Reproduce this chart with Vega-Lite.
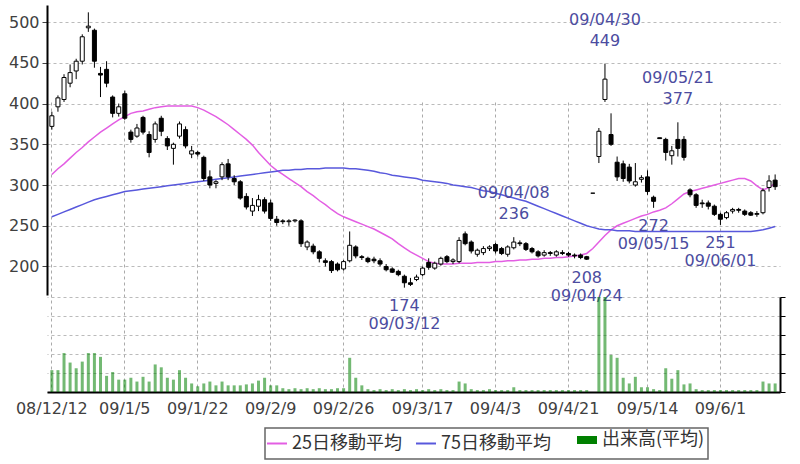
{
"$schema": "https://vega.github.io/schema/vega-lite/v6.json",
"width": 733, "height": 387,
"autosize": "none",
"padding": {"left": 47, "top": 5, "right": 20, "bottom": 72},
"background": "white",
"config": {"view": {"stroke": null}, "axis": {"labelFont": "DejaVu Sans", "labelFontSize": 16, "labelColor": "#404040"}},
"data": {"values": [
{"d":"08/12/12","o":372,"h":390,"l":368,"c":385,"v":23,"m25":313,"m75":261},
{"d":"08/12/15","o":396,"h":410,"l":390,"c":407,"v":23,"m25":320,"m75":264},
{"d":"08/12/16","o":405,"h":436,"l":402,"c":432,"v":41,"m25":326,"m75":267},
{"d":"08/12/17","o":425,"h":448,"l":420,"c":438,"v":31,"m25":333,"m75":270},
{"d":"08/12/18","o":440,"h":455,"l":430,"c":452,"v":25,"m25":340,"m75":273},
{"d":"08/12/19","o":452,"h":485,"l":448,"c":482,"v":32,"m25":346,"m75":276},
{"d":"08/12/22","o":493,"h":512,"l":488,"c":495,"v":41,"m25":353,"m75":279},
{"d":"08/12/24","o":490,"h":492,"l":444,"c":452,"v":41,"m25":359,"m75":282},
{"d":"08/12/25","o":437,"h":445,"l":408,"c":435,"v":37,"m25":365,"m75":284},
{"d":"08/12/26","o":442,"h":452,"l":420,"c":425,"v":17,"m25":370,"m75":286},
{"d":"08/12/29","o":408,"h":410,"l":383,"c":388,"v":21,"m25":375,"m75":288},
{"d":"08/12/30","o":388,"h":400,"l":384,"c":396,"v":13,"m25":380,"m75":290},
{"d":"09/1/5","o":412,"h":416,"l":380,"c":382,"v":13,"m25":384,"m75":292},
{"d":"09/1/6","o":365,"h":368,"l":352,"c":356,"v":15,"m25":388,"m75":293},
{"d":"09/1/7","o":360,"h":375,"l":358,"c":370,"v":11,"m25":390,"m75":294},
{"d":"09/1/8","o":383,"h":385,"l":362,"c":365,"v":16,"m25":391,"m75":295},
{"d":"09/1/9","o":362,"h":366,"l":334,"c":340,"v":11,"m25":393,"m75":296},
{"d":"09/1/13","o":356,"h":378,"l":352,"c":375,"v":29,"m25":395,"m75":297},
{"d":"09/1/14","o":382,"h":385,"l":360,"c":366,"v":26,"m25":396,"m75":298},
{"d":"09/1/15","o":357,"h":360,"l":343,"c":348,"v":15,"m25":397,"m75":299},
{"d":"09/1/16","o":345,"h":352,"l":325,"c":350,"v":13,"m25":397,"m75":300},
{"d":"09/1/19","o":360,"h":378,"l":357,"c":375,"v":23,"m25":397,"m75":301},
{"d":"09/1/20","o":368,"h":372,"l":345,"c":348,"v":15,"m25":397,"m75":302},
{"d":"09/1/21","o":338,"h":348,"l":333,"c":342,"v":9,"m25":397,"m75":303},
{"d":"09/1/22","o":340,"h":342,"l":335,"c":338,"v":6,"m25":395,"m75":304},
{"d":"09/1/23","o":334,"h":336,"l":305,"c":308,"v":9,"m25":392,"m75":305},
{"d":"09/1/26","o":310,"h":318,"l":296,"c":300,"v":11,"m25":388,"m75":306},
{"d":"09/1/27","o":302,"h":306,"l":296,"c":304,"v":7,"m25":384,"m75":307},
{"d":"09/1/28","o":310,"h":328,"l":306,"c":325,"v":11,"m25":379,"m75":308},
{"d":"09/1/29","o":326,"h":332,"l":306,"c":310,"v":7,"m25":374,"m75":309},
{"d":"09/1/30","o":308,"h":312,"l":300,"c":304,"v":7,"m25":368,"m75":310},
{"d":"09/2/2","o":304,"h":306,"l":282,"c":284,"v":7,"m25":362,"m75":311},
{"d":"09/2/3","o":286,"h":290,"l":270,"c":273,"v":8,"m25":356,"m75":312},
{"d":"09/2/4","o":268,"h":284,"l":262,"c":275,"v":9,"m25":349,"m75":313},
{"d":"09/2/5","o":274,"h":288,"l":268,"c":282,"v":12,"m25":340,"m75":314},
{"d":"09/2/6","o":282,"h":285,"l":265,"c":268,"v":15,"m25":332,"m75":315},
{"d":"09/2/9","o":278,"h":282,"l":256,"c":259,"v":7,"m25":324,"m75":316},
{"d":"09/2/10","o":258,"h":262,"l":250,"c":254,"v":7,"m25":318,"m75":317},
{"d":"09/2/12","o":256,"h":258,"l":252,"c":255,"v":4,"m25":313,"m75":318},
{"d":"09/2/13","o":255,"h":258,"l":250,"c":256,"v":3,"m25":308,"m75":318},
{"d":"09/2/16","o":256,"h":258,"l":254,"c":257,"v":4,"m25":303,"m75":319},
{"d":"09/2/17","o":256,"h":258,"l":224,"c":228,"v":3,"m25":298,"m75":319},
{"d":"09/2/18","o":224,"h":232,"l":220,"c":230,"v":4,"m25":292,"m75":320},
{"d":"09/2/19","o":225,"h":228,"l":215,"c":218,"v":3,"m25":287,"m75":320},
{"d":"09/2/20","o":218,"h":220,"l":205,"c":210,"v":4,"m25":281,"m75":320},
{"d":"09/2/23","o":207,"h":210,"l":200,"c":205,"v":3,"m25":276,"m75":321},
{"d":"09/2/24","o":206,"h":208,"l":192,"c":195,"v":3,"m25":270,"m75":321},
{"d":"09/2/25","o":203,"h":205,"l":194,"c":196,"v":4,"m25":265,"m75":321},
{"d":"09/2/26","o":197,"h":208,"l":195,"c":206,"v":4,"m25":261,"m75":321},
{"d":"09/2/27","o":207,"h":243,"l":205,"c":226,"v":36,"m25":258,"m75":320},
{"d":"09/3/2","o":224,"h":226,"l":210,"c":213,"v":15,"m25":255,"m75":320},
{"d":"09/3/3","o":212,"h":214,"l":208,"c":211,"v":7,"m25":252,"m75":319},
{"d":"09/3/4","o":210,"h":212,"l":204,"c":206,"v":3,"m25":249,"m75":318},
{"d":"09/3/5","o":209,"h":212,"l":204,"c":207,"v":2,"m25":246,"m75":317},
{"d":"09/3/6","o":207,"h":210,"l":200,"c":203,"v":3,"m25":242,"m75":315},
{"d":"09/3/9","o":200,"h":203,"l":194,"c":196,"v":2,"m25":238,"m75":314},
{"d":"09/3/10","o":197,"h":199,"l":192,"c":193,"v":3,"m25":234,"m75":312},
{"d":"09/3/11","o":194,"h":196,"l":188,"c":190,"v":2,"m25":228,"m75":311},
{"d":"09/3/12","o":188,"h":190,"l":174,"c":180,"v":3,"m25":223,"m75":310,"note":"low","lab":"09/03/12"},
{"d":"09/3/13","o":180,"h":186,"l":176,"c":178,"v":2,"m25":218,"m75":309},
{"d":"09/3/16","o":184,"h":190,"l":182,"c":187,"v":3,"m25":214,"m75":308},
{"d":"09/3/17","o":190,"h":200,"l":188,"c":198,"v":2,"m25":210,"m75":306},
{"d":"09/3/18","o":205,"h":210,"l":196,"c":199,"v":3,"m25":206,"m75":305},
{"d":"09/3/19","o":198,"h":206,"l":196,"c":204,"v":2,"m25":204,"m75":304},
{"d":"09/3/23","o":203,"h":212,"l":201,"c":210,"v":3,"m25":203,"m75":303},
{"d":"09/3/24","o":212,"h":214,"l":204,"c":206,"v":2,"m25":203,"m75":302},
{"d":"09/3/25","o":206,"h":210,"l":203,"c":208,"v":2,"m25":203,"m75":300},
{"d":"09/3/26","o":206,"h":236,"l":204,"c":232,"v":11,"m25":204,"m75":299},
{"d":"09/3/27","o":240,"h":243,"l":226,"c":228,"v":9,"m25":204,"m75":298},
{"d":"09/3/30","o":230,"h":232,"l":216,"c":219,"v":3,"m25":204,"m75":297},
{"d":"09/3/31","o":215,"h":222,"l":212,"c":220,"v":2,"m25":205,"m75":295},
{"d":"09/4/1","o":217,"h":225,"l":214,"c":222,"v":2,"m25":205,"m75":293},
{"d":"09/4/2","o":222,"h":226,"l":219,"c":224,"v":3,"m25":205,"m75":292},
{"d":"09/4/3","o":227,"h":229,"l":216,"c":219,"v":2,"m25":206,"m75":290},
{"d":"09/4/6","o":222,"h":224,"l":214,"c":216,"v":2,"m25":206,"m75":288},
{"d":"09/4/7","o":215,"h":226,"l":212,"c":224,"v":2,"m25":207,"m75":286},
{"d":"09/4/8","o":223,"h":236,"l":221,"c":230,"v":5,"m25":207,"m75":284,"note":"high","lab":"09/04/08"},
{"d":"09/4/9","o":229,"h":232,"l":225,"c":228,"v":2,"m25":208,"m75":282},
{"d":"09/4/10","o":228,"h":230,"l":219,"c":221,"v":2,"m25":208,"m75":280},
{"d":"09/4/13","o":222,"h":224,"l":216,"c":218,"v":2,"m25":209,"m75":277},
{"d":"09/4/14","o":218,"h":220,"l":211,"c":213,"v":2,"m25":209,"m75":274},
{"d":"09/4/15","o":214,"h":220,"l":212,"c":217,"v":2,"m25":210,"m75":271},
{"d":"09/4/16","o":217,"h":219,"l":213,"c":216,"v":2,"m25":210,"m75":268},
{"d":"09/4/17","o":214,"h":220,"l":212,"c":218,"v":2,"m25":211,"m75":265},
{"d":"09/4/20","o":217,"h":220,"l":214,"c":216,"v":2,"m25":211,"m75":262},
{"d":"09/4/21","o":216,"h":218,"l":212,"c":214,"v":2,"m25":212,"m75":259},
{"d":"09/4/22","o":214,"h":216,"l":210,"c":213,"v":2,"m25":213,"m75":256},
{"d":"09/4/23","o":214,"h":216,"l":209,"c":211,"v":2,"m25":214,"m75":253},
{"d":"09/4/24","o":212,"h":213,"l":208,"c":209,"v":2,"m25":216,"m75":250,"note":"low","lab":"09/04/24"},
{"d":"09/4/27","o":290,"h":290,"l":290,"c":290,"v":0,"m25":222,"m75":248},
{"d":"09/4/28","o":335,"h":370,"l":327,"c":366,"v":100,"m25":230,"m75":246},
{"d":"09/4/30","o":405,"h":449,"l":402,"c":430,"v":100,"m25":238,"m75":245,"note":"high","lab":"09/04/30"},
{"d":"09/5/1","o":362,"h":388,"l":348,"c":350,"v":39,"m25":245,"m75":245},
{"d":"09/5/7","o":328,"h":335,"l":305,"c":310,"v":36,"m25":250,"m75":244},
{"d":"09/5/8","o":326,"h":330,"l":304,"c":308,"v":15,"m25":253,"m75":244},
{"d":"09/5/11","o":322,"h":326,"l":302,"c":305,"v":9,"m25":256,"m75":244},
{"d":"09/5/12","o":300,"h":327,"l":298,"c":304,"v":16,"m25":259,"m75":243},
{"d":"09/5/13","o":307,"h":312,"l":303,"c":309,"v":5,"m25":262,"m75":243},
{"d":"09/5/14","o":310,"h":318,"l":288,"c":292,"v":5,"m25":264,"m75":243},
{"d":"09/5/15","o":285,"h":287,"l":272,"c":280,"v":3,"m25":267,"m75":243,"note":"low","lab":"09/05/15"},
{"d":"09/5/18","o":358,"h":358,"l":357,"c":357,"v":2,"m25":269,"m75":243},
{"d":"09/5/19","o":356,"h":358,"l":330,"c":340,"v":25,"m25":272,"m75":243},
{"d":"09/5/20","o":336,"h":348,"l":325,"c":342,"v":14,"m25":277,"m75":243},
{"d":"09/5/21","o":356,"h":377,"l":335,"c":345,"v":23,"m25":283,"m75":243,"note":"high","lab":"09/05/21"},
{"d":"09/5/22","o":356,"h":360,"l":330,"c":334,"v":8,"m25":289,"m75":243},
{"d":"09/5/25","o":294,"h":296,"l":285,"c":288,"v":9,"m25":292,"m75":243},
{"d":"09/5/26","o":288,"h":290,"l":272,"c":275,"v":3,"m25":294,"m75":243},
{"d":"09/5/27","o":278,"h":282,"l":272,"c":277,"v":2,"m25":296,"m75":243},
{"d":"09/5/28","o":278,"h":281,"l":270,"c":274,"v":2,"m25":298,"m75":243},
{"d":"09/5/29","o":274,"h":276,"l":262,"c":264,"v":2,"m25":300,"m75":243},
{"d":"09/6/1","o":264,"h":266,"l":251,"c":258,"v":2,"m25":302,"m75":243,"note":"low","lab":"09/06/01"},
{"d":"09/6/2","o":260,"h":268,"l":258,"c":266,"v":2,"m25":304,"m75":243},
{"d":"09/6/3","o":268,"h":272,"l":265,"c":270,"v":2,"m25":306,"m75":243},
{"d":"09/6/4","o":270,"h":272,"l":266,"c":269,"v":2,"m25":308,"m75":243},
{"d":"09/6/5","o":268,"h":270,"l":262,"c":264,"v":2,"m25":308,"m75":243},
{"d":"09/6/8","o":266,"h":268,"l":262,"c":263,"v":2,"m25":305,"m75":243},
{"d":"09/6/9","o":264,"h":268,"l":261,"c":265,"v":2,"m25":299,"m75":244},
{"d":"09/6/10","o":266,"h":296,"l":264,"c":293,"v":11,"m25":294,"m75":245},
{"d":"09/6/11","o":297,"h":312,"l":292,"c":305,"v":9,"m25":297,"m75":247},
{"d":"09/6/12","o":306,"h":313,"l":294,"c":298,"v":9,"m25":302,"m75":249}
]},
"encoding": {
  "x": {"field": "d", "type": "ordinal", "sort": null, "title": null,
        "scale": {"paddingInner": 0, "paddingOuter": 0.3},
        "axis": {"values": ["08/12/12","09/1/5","09/1/22","09/2/9","09/2/26","09/3/17","09/4/3","09/4/21","09/5/14","09/6/1"],
                 "labelAngle": 0, "grid": true, "gridDash": [3,3], "gridColor": "#aaaaaa", "ticks": false,
                 "domainColor": "#000000", "domainWidth": 2, "labelPadding": 8, "labelOverlap": false, "labelBound": false, "labelFlush": false}}
},
"layer": [
  {
    "layer": [
      {"mark": {"type": "line", "strokeWidth": 1.5},
       "encoding": {"y": {"field": "m25", "type": "quantitative", "title": null,
                          "scale": {"domain": [165, 521], "range": [290, 0], "nice": false, "zero": false},
                          "axis": {"values": [200,250,300,350,400,450,500], "grid": true, "gridDash": [3,3], "gridColor": "#bbbbbb",
                                   "domainColor": "#000000", "domainWidth": 2, "tickColor": "#444444", "tickSize": 5, "labelPadding": 3}},
                    "color": {"datum": "25日移動平均",
                              "scale": {"domain": ["25日移動平均","75日移動平均","出来高(平均)"], "range": ["#e35ee3","#5858dc","#008000"]},
                              "legend": {"orient": "none", "legendX": 218, "legendY": 423, "direction": "horizontal", "title": null,
                                         "symbolType": "stroke", "symbolSize": 400, "strokeColor": "#666666", "padding": 3,
                                         "labelFont": "Noto Sans CJK JP", "labelFontSize": 18, "labelColor": "#333333",
                                         "columnPadding": 10, "labelOffset": 6, "labelLimit": 300,
                                         "encode": {"legend": {"update": {"strokeWidth": {"value": 1.5}}},
                                                    "symbols": {"update": {"stroke": {"scale": "color", "field": "value"},
                                                                            "strokeWidth": {"signal": "datum.value === '出来高(平均)' ? 8 : 2"},
                                                                            "fill": {"value": "transparent"}, "opacity": {"value": 1}}}}}}}},
      {"mark": {"type": "line", "strokeWidth": 1.5},
       "encoding": {"y": {"field": "m75", "type": "quantitative", "title": null,
                          "scale": {"domain": [165, 521], "range": [290, 0], "nice": false, "zero": false}},
                    "color": {"datum": "75日移動平均"}}},
      {"mark": {"type": "rule", "color": "#000000", "strokeWidth": 1},
       "encoding": {"y": {"field": "l", "type": "quantitative", "title": null,
                          "scale": {"domain": [165, 521], "range": [290, 0], "nice": false, "zero": false}},
                    "y2": {"field": "h"}}},
      {"mark": {"type": "bar", "stroke": "#000000", "strokeWidth": 1, "width": 4},
       "encoding": {"y": {"field": "o", "type": "quantitative", "title": null,
                          "scale": {"domain": [165, 521], "range": [290, 0], "nice": false, "zero": false}},
                    "y2": {"field": "c"},
                    "fill": {"condition": {"test": "datum.c >= datum.o", "value": "#ffffff"}, "value": "#000000"}}},
      {"transform": [{"filter": "datum.note === 'high'"}],
       "mark": {"type": "text", "font": "DejaVu Sans", "fontSize": 16, "color": "#4c4ca0", "dy": -44},
       "encoding": {"y": {"field": "h", "type": "quantitative", "title": null,
                          "scale": {"domain": [165, 521], "range": [290, 0], "nice": false, "zero": false}},
                    "text": {"field": "lab"}}},
      {"transform": [{"filter": "datum.note === 'high'"}],
       "mark": {"type": "text", "font": "DejaVu Sans", "fontSize": 16, "color": "#4c4ca0", "dy": -23},
       "encoding": {"y": {"field": "h", "type": "quantitative", "title": null,
                          "scale": {"domain": [165, 521], "range": [290, 0], "nice": false, "zero": false}},
                    "text": {"field": "h"}}},
      {"transform": [{"filter": "datum.note === 'low'"}],
       "mark": {"type": "text", "font": "DejaVu Sans", "fontSize": 16, "color": "#4c4ca0", "dy": 18},
       "encoding": {"y": {"field": "l", "type": "quantitative", "title": null,
                          "scale": {"domain": [165, 521], "range": [290, 0], "nice": false, "zero": false}},
                    "text": {"field": "l"}}},
      {"transform": [{"filter": "datum.note === 'low'"}],
       "mark": {"type": "text", "font": "DejaVu Sans", "fontSize": 16, "color": "#4c4ca0", "dy": 36},
       "encoding": {"y": {"field": "l", "type": "quantitative", "title": null,
                          "scale": {"domain": [165, 521], "range": [290, 0], "nice": false, "zero": false}},
                    "text": {"field": "lab"}}}
    ]
  },
  {
    "mark": {"type": "bar", "width": 3, "fillOpacity": 0.55},
    "encoding": {
      "y": {"field": "v", "type": "quantitative", "title": null,
            "scale": {"domain": [0, 100], "range": [387, 292], "nice": false},
            "axis": {"orient": "right", "values": [0,20,40,60,80,100], "labels": false, "grid": true, "gridDash": [3,3], "gridColor": "#bbbbbb",
                     "domainColor": "#000000", "domainWidth": 2, "tickColor": "#000000", "tickSize": 5}},
      "color": {"datum": "出来高(平均)"}
    }
  }
],
"resolve": {"scale": {"y": "independent"}}
}
